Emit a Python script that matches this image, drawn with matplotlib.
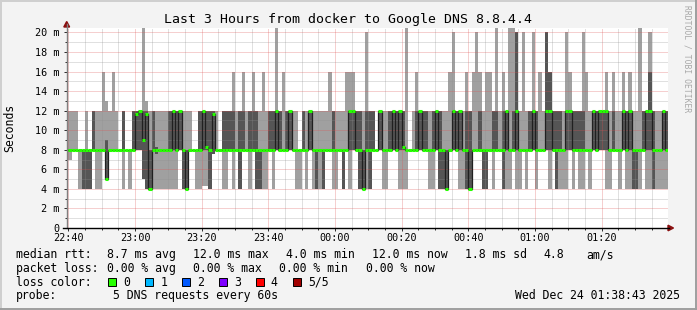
import numpy as np
import matplotlib
matplotlib.use("Agg")
import matplotlib.pyplot as plt
from matplotlib.lines import Line2D
from matplotlib.patches import Polygon, Rectangle
from matplotlib.ticker import FixedLocator

plt.rcParams['font.family'] = 'DejaVu Sans Mono'

# SmokePing: one column per minute (first column starts 22:39), 5 DNS pings sorted, ms
ping_min = [7, 7, 8, 8, 4, 4, 4, 4, 8, 4,
            4, 8, 5, 8, 8, 8, 8, 4, 8, 4,
            8, 8, 8, 5, 4, 4, 4, 4, 4, 4,
            4, 4, 4, 4, 8, 4, 4, 8, 8, 4,
            4, 4.3, 4.3, 4, 7.6, 8, 8, 4, 4, 8,
            4, 8, 4, 8, 8, 4, 8, 4, 4, 4,
            4, 8, 4, 8, 8, 8, 8, 8, 8, 4,
            4, 8, 4, 8, 4, 4, 4, 4, 8, 8,
            4, 4, 8, 4, 8, 4, 8, 8, 4, 4,
            4, 4, 8, 8, 8, 4, 4, 8, 8, 8,
            4, 4, 4, 8, 8, 8, 8, 8, 8, 4,
            4, 8, 4, 4, 4, 8, 8, 8, 4, 4,
            4, 4, 8, 8, 8, 4, 4, 8, 4, 8,
            8, 4, 4, 4, 8, 4, 4, 8, 4, 8,
            8, 4, 8, 8, 8, 4, 8, 4, 4, 4,
            4, 8, 4, 8, 4, 4, 8, 4, 8, 8,
            8, 8, 4, 4, 8, 8, 4, 8, 4, 4,
            4, 4, 4, 8, 4, 4, 4, 4, 4, 4, 4]
ping_q1 = [8, 8, 8, 8, 8, 4, 4, 4, 8, 8,
           8, 8, 5, 8, 8, 8, 8, 8, 8, 8,
           8, 8, 8, 5, 4, 4, 8, 7.6, 8, 8,
           8, 8, 8, 8, 8, 4, 4, 8, 8, 8,
           8, 8, 8, 4, 7.6, 8, 8, 8, 8, 8,
           8, 8, 4, 8, 8, 8, 8, 4, 4, 8,
           8, 8, 8, 8, 8, 8, 8, 8, 8, 8,
           8, 8, 8, 8, 8, 4, 8, 4, 8, 8,
           8, 8, 8, 4, 8, 8, 8, 8, 4, 4,
           8, 4, 8, 8, 8, 8, 8, 8, 8, 8,
           8, 8, 8, 8, 8, 8, 8, 8, 8, 8,
           8, 8, 4, 4, 4, 8, 8, 8, 8, 8,
           4, 4, 8, 8, 8, 4, 4, 8, 8, 8,
           8, 4, 8, 8, 8, 8, 8, 8, 8, 8,
           8, 8, 8, 8, 8, 8, 8, 4, 8, 8,
           8, 8, 8, 8, 8, 8, 8, 8, 8, 8,
           8, 8, 8, 8, 8, 8, 8, 8, 8, 8,
           4, 4, 8, 8, 8, 8, 4, 8, 8, 8, 8]
ping_med = [8, 8, 8, 8, 8, 8, 8, 8, 8, 8,
            8, 8, 5, 8, 8, 8, 8, 8, 8, 8,
            8, 11.7, 12, 9, 11.7, 4, 8, 8, 8, 8,
            8, 8, 12, 8, 12, 8, 4, 8, 8, 8,
            8, 12, 8.3, 8, 11.7, 8, 8, 8, 8, 8,
            8, 8, 8, 8, 8, 8, 8, 8, 8, 8,
            8, 8, 8, 12, 8, 8, 8, 12, 8, 8,
            8, 8, 8, 12, 8, 8, 8, 8, 8, 8,
            8, 8, 8, 8, 8, 12, 12, 8, 8, 4,
            8, 8, 8, 8, 12, 8, 8, 8, 12, 8,
            12, 8.3, 8, 8, 8, 8, 12, 8, 8, 8,
            8, 12, 8, 8, 4, 8, 12, 8, 12, 8,
            8, 4, 8, 8, 8, 8, 8, 8, 8, 8,
            8, 8, 12, 8, 8, 12, 8, 8, 8, 8,
            12, 8, 8, 8, 12, 12, 8, 8, 8, 8,
            12, 12, 8, 8, 8, 8, 8, 8, 12, 8,
            12, 12, 12, 8, 8, 8, 8, 12, 8, 12,
            8, 8, 8, 8, 12, 12, 8, 8, 8, 12, 8]
ping_q3 = [8, 8, 8, 8, 8, 8, 8, 8, 12, 8,
           8, 8, 9, 8, 8, 8, 8, 12, 8, 8,
           12, 12, 12, 12, 12, 8, 12, 8.3, 8, 8,
           8, 12, 12, 12, 12, 8, 8, 8, 8, 8,
           12, 12, 12, 12, 12, 8, 8, 12, 12, 12,
           12, 8, 12, 12, 8, 12, 12, 12, 8, 8,
           8, 12, 12, 12, 12, 8, 12, 12, 8, 8,
           8, 12, 8, 12, 8, 8, 8, 8, 8, 8,
           12, 8, 8, 8, 8, 12, 12, 12, 12, 8,
           12, 12, 12, 8, 12, 8, 8, 12, 12, 12,
           12, 12, 8, 8, 8, 12, 12, 12, 12, 8,
           12, 12, 12, 8, 8, 8, 12, 12, 12, 8,
           12, 12, 8, 8, 12, 8, 8, 8, 12, 12,
           8, 12, 12, 8, 12, 20, 8, 8, 8, 12,
           12, 12, 8, 8, 20, 16, 12, 12, 12, 8,
           12, 12, 12, 12, 12, 12, 8, 8, 12, 12,
           12, 12, 12, 8, 12, 8, 8, 12, 12, 12,
           8, 8, 8, 12, 12, 16, 12, 8, 8, 12, 12]
ping_max = [12, 12, 12, 12, 8, 8, 12, 8, 12, 12,
            12, 16, 13, 12, 16, 12, 8, 12, 8, 8,
            12, 12, 12, 20.5, 13, 12, 12, 12, 12, 12,
            12, 12, 12, 12, 12, 12, 12, 12, 8, 8,
            12, 12, 12, 12, 12, 12, 8, 12, 12, 12,
            16, 12, 12, 16, 12, 12, 16, 12, 12, 16,
            12, 12, 12, 20.5, 12, 16, 12, 12, 12, 12,
            8, 12, 12, 12, 12, 12, 12, 12, 12, 16,
            12, 12, 12, 12, 16, 16, 16, 12, 12, 12,
            20, 12, 12, 8, 12, 12, 12, 12, 12, 12,
            12, 12, 20.5, 8, 12, 16, 12, 12, 12, 12,
            12, 12, 12, 12, 12, 16, 20, 12, 12, 12,
            16, 12, 16, 20, 16, 12, 16, 16, 12, 20.5,
            12, 16, 12, 20.5, 20.5, 20, 12, 20, 12, 12,
            20, 12, 16, 12, 20, 16, 12, 12, 12, 12,
            20, 16, 12, 12, 12, 20, 16, 12, 12, 12,
            12, 12, 16, 12, 16, 12, 12, 16, 12, 16,
            12, 12, 20.5, 12, 12, 20, 12, 12, 12, 12, 12]

tick_minutes = [0, 20, 40, 60, 80, 100, 120, 140, 160]
tick_labels = ['22:40', '23:00', '23:20', '23:40', '00:00',
               '00:20', '00:40', '01:00', '01:20']
y_ticks = [0, 2, 4, 6, 8, 10, 12, 14, 16, 18, 20]
y_labels = ['0', '2 m', '4 m', '6 m', '8 m', '10 m', '12 m',
            '14 m', '16 m', '18 m', '20 m']
loss_labels = ['0', '1', '2', '3', '4', '5/5']
loss_colors = ['#26ff00', '#00b8ff', '#0059ff', '#7e00ff', '#ff0000', '#a10000']

W, H = 697, 310
fig = plt.figure(figsize=(W / 100, H / 100), dpi=100, facecolor='#f3f3f3')


def fx(x):
    return x / W


def fy(y):
    return 1 - y / H


left, right, top, bottom = 66.7, 668.0, 27.5, 228.0
ax = fig.add_axes([fx(left), fy(bottom), (right - left) / W, (bottom - top) / H])
ax.set_facecolor('white')

# minutes since 22:40, one column per sample
edges = np.arange(len(ping_med) + 1) - 1.0

ax.stairs(ping_max, edges, baseline=ping_min, fill=True,
          color='#a0a0a0', lw=0, zorder=1)
ax.stairs(ping_q3, edges, baseline=ping_q1, fill=True,
          color='#555555', lw=0, zorder=1.1)
ax.stairs(ping_med, edges, baseline=None, color='#202020', lw=0.9, zorder=3)
ax.hlines(ping_med, edges[:-1], edges[1:], color='#26ff00', lw=2.2, zorder=4)

ax.set_xlim(-0.5, 179.9)
ax.set_ylim(0, 20.5)
ax.set_xticks(tick_minutes, tick_labels)
ax.xaxis.set_minor_locator(FixedLocator(np.arange(0, 180, 5)))
ax.set_yticks(y_ticks, y_labels)
ax.yaxis.set_minor_locator(FixedLocator(np.arange(1, 21, 2)))
ax.set_axisbelow(False)
ax.grid(True, which='major', color='#de5050', alpha=0.55, ls=(0, (1, 1)), lw=0.72)
ax.grid(True, which='minor', color='#8f8f8f', alpha=0.55, ls=(0, (1, 1)), lw=0.72)
ax.tick_params(which='both', direction='out', color='#303030', width=0.72,
               labelsize=7.3)
ax.tick_params(which='major', length=2.2)
ax.tick_params(which='minor', length=1.4)
ax.tick_params(axis='x', pad=1.5)
ax.tick_params(axis='y', pad=3)
for s in ax.spines.values():
    s.set_visible(False)

# axes with rrdtool arrows
arrow_col = '#8b1010'
fig.add_artist(Line2D([fx(left), fx(left)], [fy(bottom), fy(24)], color='#808080', lw=1.0))
fig.add_artist(Polygon([[fx(63.8), fy(27)], [fx(69.6), fy(27)], [fx(left), fy(21.5)]],
                       closed=True, color=arrow_col))
fig.add_artist(Line2D([fx(63), fx(669)], [fy(bottom), fy(bottom)], color='black', lw=1.0))
fig.add_artist(Polygon([[fx(668), fy(225.2)], [fx(668), fy(230.8)], [fx(673.5), fy(bottom)]],
                       closed=True, color=arrow_col))

# title, unit, watermark
fig.text(fx(348), fy(19), 'Last 3 Hours from docker to Google DNS 8.8.4.4',
         ha='center', va='center', fontsize=9.5)
fig.text(fx(10), fy(128), 'Seconds', rotation=90, ha='center', va='center', fontsize=8.3)
fig.text(fx(687), fy(5), 'RRDTOOL / TOBI OETIKER', rotation=270, ha='center', va='top',
         fontsize=5.8, color='#a8a8a8')


def legend_text(x, y, s, ha='left'):
    fig.text(fx(x), fy(y), s, ha=ha, va='baseline', fontsize=8.3)


row1, row2, row3, row4 = 258.3, 272.0, 285.7, 299.4
legend_text(16, row1, 'median rtt:')
legend_text(107.3, row1, '8.7 ms avg')
legend_text(193.3, row1, '12.0 ms max')
legend_text(286, row1, '4.0 ms min')
legend_text(371.7, row1, '12.0 ms now')
legend_text(465, row1, '1.8 ms sd')
legend_text(543.3, row1, '4.8')
legend_text(586.7, row1, 'am/s')

legend_text(16, row2, 'packet loss:')
legend_text(107.3, row2, '0.00 % avg')
legend_text(193.3, row2, '0.00 % max')
legend_text(279.3, row2, '0.00 % min')
legend_text(365.7, row2, '0.00 % now')

legend_text(16, row3, 'loss color:')
for i, (lab, col) in enumerate(zip(loss_labels, loss_colors)):
    bx = 108.3 + i * 36.9
    fig.add_artist(Rectangle((fx(bx), fy(286)), 7.7 / W, 7.7 / H, facecolor=col,
                             edgecolor='black', lw=0.7))
    legend_text(bx + 15, row3, lab)

legend_text(16, row4, 'probe:')
legend_text(112.7, row4, '5 DNS requests every 60s')
legend_text(680, row4, 'Wed Dec 24 01:38:43 2025', ha='right')

# 3d frame
fig.add_artist(Line2D([0, 1], [fy(0.7), fy(0.7)], color='#cfcfcf', lw=1.4))
fig.add_artist(Line2D([fx(0.7), fx(0.7)], [0, 1], color='#cfcfcf', lw=1.4))
fig.add_artist(Line2D([0, 1], [fy(309.3), fy(309.3)], color='#9e9e9e', lw=1.4))
fig.add_artist(Line2D([fx(696.3), fx(696.3)], [0, 1], color='#9e9e9e', lw=1.4))

fig.savefig('out.png', dpi=100, facecolor=fig.get_facecolor())
